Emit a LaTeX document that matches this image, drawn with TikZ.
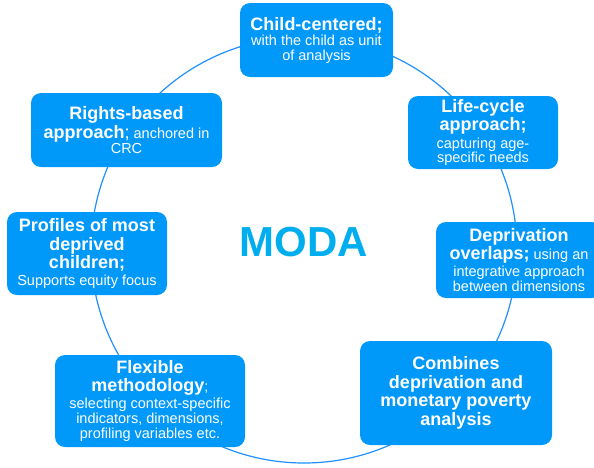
\documentclass[tikz,border=0pt]{standalone}
\usepackage{fontspec}
\setmainfont{Liberation Sans}
\definecolor{boxblue}{RGB}{0,153,250}
\definecolor{ringblue}{RGB}{30,144,255}
\definecolor{modacyan}{RGB}{0,174,239}
\newcommand{\Bf}{\fontsize{18}{15}\bfseries\selectfont}
\newcommand{\Rg}{\fontsize{18}{15}\selectfont}
\lineskiplimit=-100pt\relax
\tikzset{
  boxnode/.style={fill=boxblue, rounded corners=10pt, text=white, align=center,
    inner sep=0pt, font=\fontsize{14.5}{15}\selectfont},
  ring/.style={draw=ringblue, line width=1.2pt},
}
\begin{document}
\begin{tikzpicture}[x=1pt,y=-1pt]
\useasboundingbox (0,0) rectangle (594,467);
\draw[ring] (304,250) circle[radius=213pt];
\node[boxnode, minimum width=153pt, minimum height=74pt] (child) at (316.5,40)
  {{\Bf Child-centered;}\\ with the child as unit\\ of analysis};
\node[boxnode, minimum width=191pt, minimum height=74pt] (rights) at (126.5,130)
  {{\Bf Rights-based}\\[3.5pt]{\Bf approach}{\Rg;} anchored in\\ CRC};
\node[boxnode, minimum width=150pt, minimum height=73pt] (life) at (483,132.5)
  {{\Bf Life-cycle}\\[2.7pt]{\Bf approach;}\\[2.7pt] capturing age-\\[-1pt] specific needs};
\node[boxnode, minimum width=160pt, minimum height=83pt] (profiles) at (87,253.5)
  {{\Bf Profiles of most}\\[3.5pt]{\Bf deprived}\\[3.5pt]{\Bf children;}\\[1.5pt] Supports equity focus};
\node[boxnode, minimum width=166pt, minimum height=76pt] (depriv) at (519,260)
  {{\Bf Deprivation}\\[3.5pt]{\Bf overlaps;} using an\\[1.5pt] integrative approach\\ between dimensions};
\node[boxnode, minimum width=190pt, minimum height=92pt] (flex) at (150,401)
  {{\Bf Flexible}\\[3.5pt]{\Bf methodology};\\[2pt] selecting context-specific\\ indicators, dimensions,\\ profiling variables etc.};
\node[boxnode, minimum width=192pt, minimum height=104pt] (comb) at (456,393)
  {{\Bf Combines}\\[3.5pt]{\Bf deprivation and}\\[3.5pt]{\Bf monetary poverty}\\[3.5pt]{\Bf analysis}};
\node[text=modacyan, font=\fontsize{42}{42}\bfseries\selectfont] (moda) at (304,242) {MODA};
\end{tikzpicture}
\end{document}
